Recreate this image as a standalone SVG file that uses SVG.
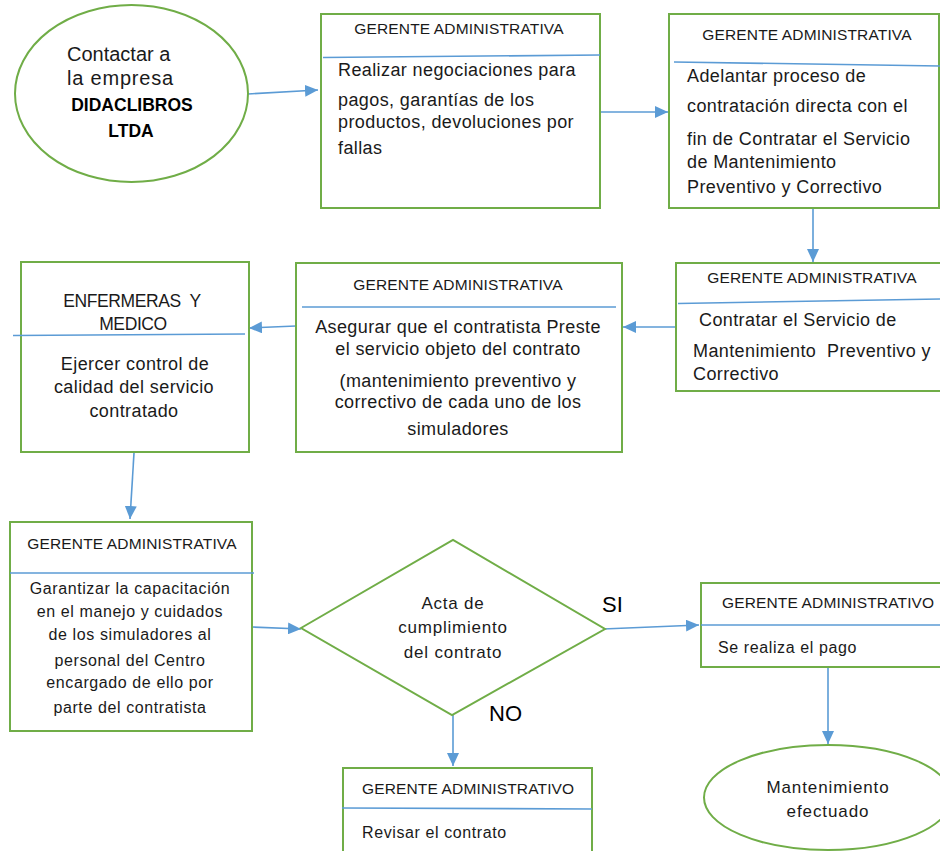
<svg xmlns="http://www.w3.org/2000/svg" width="940" height="851" viewBox="0 0 940 851">
<style>
.sh{fill:#fff;stroke:#70AD47;stroke-width:2}
.dv{stroke:#5B9BD5;stroke-width:1.6;fill:none}
.cn{stroke:#5B9BD5;stroke-width:1.6;fill:none;marker-end:url(#ah)}
.hd{font-family:"Liberation Sans",Arial,sans-serif;font-size:15.5px;letter-spacing:0.15px;fill:#1a1a1a}
.bd{font-family:"Liberation Sans",Arial,sans-serif;font-size:18px;letter-spacing:0.4px;fill:#1a1a1a}
.cb{font-family:"Liberation Sans",Arial,sans-serif;font-size:16px;letter-spacing:0.6px;fill:#1a1a1a}
.c{text-anchor:middle}
</style>
<defs>
<marker id="ah" markerUnits="userSpaceOnUse" markerWidth="14" markerHeight="12" refX="13" refY="6" orient="auto">
<path d="M0,0 L13,6 L0,12 Z" fill="#5B9BD5"/>
</marker>
</defs>
<g id="connectors">
<path class="cn" d="M248,94 L318,90"/>
<path class="cn" d="M600,112 L668,112"/>
<path class="cn" d="M813,209 L813,262"/>
<path class="cn" d="M676,327 L623,327"/>
<path class="cn" d="M296,326 L249,328"/>
<path class="cn" d="M134,453 L130,519"/>
<path class="cn" d="M252,627 L301,629"/>
<path class="cn" d="M603,629 L699,625"/>
<path class="cn" d="M453,714 L453,766"/>
<path class="cn" d="M828,667 L828,744"/>
</g>
<g id="n1">
<ellipse class="sh" cx="131.5" cy="93.5" rx="116.5" ry="88.5"/>
<text x="67" y="61" font-family="Liberation Sans,Arial,sans-serif" font-size="20" fill="#1a1a1a">Contactar a</text>
<text x="67" y="85" font-family="Liberation Sans,Arial,sans-serif" font-size="20" letter-spacing="0.8" fill="#1a1a1a">la empresa</text>
<text x="132" y="111" class="c" font-family="Liberation Sans,Arial,sans-serif" font-size="17.5" font-weight="bold" fill="#000">DIDACLIBROS</text>
<text x="131" y="137" class="c" font-family="Liberation Sans,Arial,sans-serif" font-size="17.5" font-weight="bold" fill="#000">LTDA</text>
</g>
<g id="n2">
<rect class="sh" x="321" y="14" width="279" height="194"/>
<path class="dv" d="M323,57.5 L600,55"/>
<text class="hd c" x="459" y="34">GERENTE ADMINISTRATIVA</text>
<text class="bd" x="338" y="76">Realizar negociaciones para</text>
<text class="bd" x="338" y="106">pagos, garantías de los</text>
<text class="bd" x="338" y="128">productos, devoluciones por</text>
<text class="bd" x="338" y="154">fallas</text>
</g>
<g id="n3">
<rect class="sh" x="669" y="14" width="270" height="194"/>
<path class="dv" d="M674,62 L940,66"/>
<text class="hd c" x="807" y="40">GERENTE ADMINISTRATIVA</text>
<text class="bd" x="687" y="82">Adelantar proceso de</text>
<text class="bd" x="687" y="112">contratación directa con el</text>
<text class="bd" x="687" y="145">fin de Contratar el Servicio</text>
<text class="bd" x="687" y="168">de Mantenimiento</text>
<text class="bd" x="687" y="193">Preventivo y Correctivo</text>
</g>
<g id="n4">
<rect class="sh" x="676" y="263" width="268" height="128"/>
<path class="dv" d="M678,303.5 L940,299"/>
<text class="hd c" x="812" y="283">GERENTE ADMINISTRATIVA</text>
<text class="bd" x="699" y="326">Contratar el Servicio de</text>
<text class="bd" x="693" y="357" xml:space="preserve">Mantenimiento  Preventivo y</text>
<text class="bd" x="693" y="380">Correctivo</text>
</g>
<g id="n5">
<rect class="sh" x="296" y="263" width="326" height="189"/>
<path class="dv" d="M302,307 L616,307"/>
<text class="hd c" x="458" y="290">GERENTE ADMINISTRATIVA</text>
<text class="bd c" x="458" y="333">Asegurar que el contratista Preste</text>
<text class="bd c" x="458" y="355">el servicio objeto del contrato</text>
<text class="bd c" x="458" y="387">(mantenimiento preventivo y</text>
<text class="bd c" x="458" y="408">correctivo de cada uno de los</text>
<text class="bd c" x="458" y="435">simuladores</text>
</g>
<g id="n6">
<rect class="sh" x="21" y="262" width="228" height="190"/>
<path class="dv" d="M13,335.5 L245,334"/>
<text class="c" x="132" y="307" font-family="Liberation Sans,Arial,sans-serif" font-size="17.5" letter-spacing="-0.4" fill="#1a1a1a" xml:space="preserve">ENFERMERAS  Y</text>
<text class="c" x="133" y="330" font-family="Liberation Sans,Arial,sans-serif" font-size="17.5" letter-spacing="-0.4" fill="#1a1a1a">MEDICO</text>
<text class="bd c" x="135" y="370">Ejercer control de</text>
<text class="bd c" x="134" y="393">calidad del servicio</text>
<text class="bd c" x="134" y="417">contratado</text>
</g>
<g id="n7">
<rect class="sh" x="10" y="522" width="242" height="209"/>
<path class="dv" d="M10,573 L254,573"/>
<text class="hd c" x="132" y="549">GERENTE ADMINISTRATIVA</text>
<text class="cb c" x="130" y="594">Garantizar la capacitación</text>
<text class="cb c" x="130" y="617">en el manejo y cuidados</text>
<text class="cb c" x="130" y="640">de los simuladores al</text>
<text class="cb c" x="130" y="666">personal del Centro</text>
<text class="cb c" x="130" y="688">encargado de ello por</text>
<text class="cb c" x="130" y="713">parte del contratista</text>
</g>
<g id="n8">
<path class="sh" d="M301,628 L453,540 L605,629 L452,715 Z"/>
<text class="c" x="453" y="609" font-family="Liberation Sans,Arial,sans-serif" font-size="17" letter-spacing="0.8" fill="#1a1a1a">Acta de</text>
<text class="c" x="453" y="633" font-family="Liberation Sans,Arial,sans-serif" font-size="17" letter-spacing="0.8" fill="#1a1a1a">cumplimiento</text>
<text class="c" x="453" y="658" font-family="Liberation Sans,Arial,sans-serif" font-size="17" letter-spacing="0.8" fill="#1a1a1a">del contrato</text>
</g>
<g id="labels">
<text x="602" y="612" font-family="Liberation Sans,Arial,sans-serif" font-size="22" fill="#000">SI</text>
<text x="489" y="721" font-family="Liberation Sans,Arial,sans-serif" font-size="22" fill="#000">NO</text>
</g>
<g id="n9">
<rect class="sh" x="701" y="583" width="244" height="84"/>
<path class="dv" d="M701,625 L940,625"/>
<text class="hd" x="722" y="608">GERENTE ADMINISTRATIVO</text>
<text class="cb" x="718" y="653" letter-spacing="0.5">Se realiza el pago</text>
</g>
<g id="n10">
<ellipse class="sh" cx="828" cy="797.5" rx="124" ry="52.5"/>
<text class="c" x="828" y="793" font-family="Liberation Sans,Arial,sans-serif" font-size="17" letter-spacing="0.9" fill="#1a1a1a">Mantenimiento</text>
<text class="c" x="828" y="817" font-family="Liberation Sans,Arial,sans-serif" font-size="17" letter-spacing="0.9" fill="#1a1a1a">efectuado</text>
</g>
<g id="n11">
<rect class="sh" x="343" y="768" width="249" height="100"/>
<path class="dv" d="M342,808 L592,809"/>
<text class="hd" x="362" y="794">GERENTE ADMINISTRATIVO</text>
<text class="cb" x="362" y="838" letter-spacing="0.7">Revisar el contrato</text>
</g>
</svg>
